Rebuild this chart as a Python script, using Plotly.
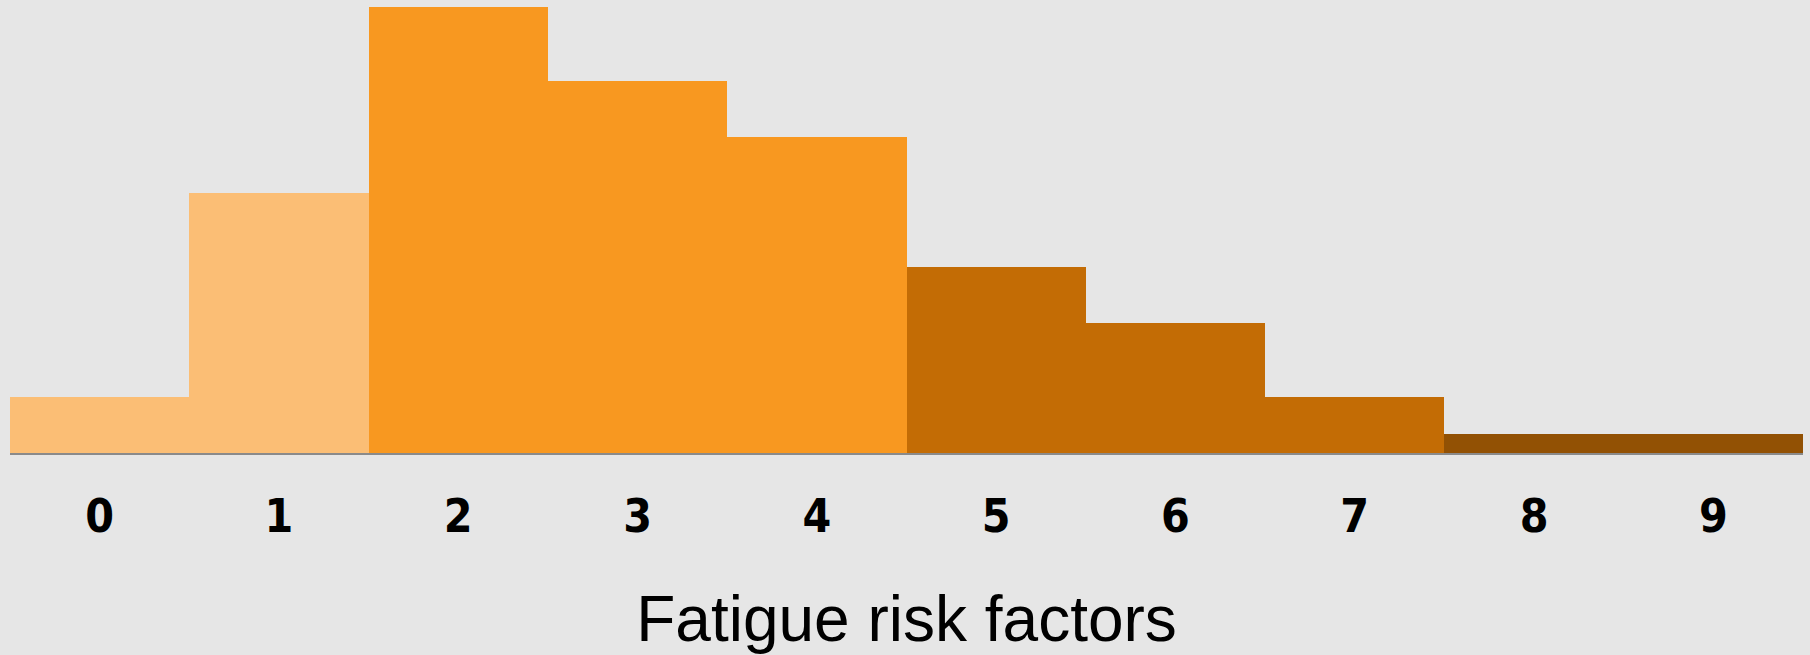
import plotly.graph_objects as go

categories = ["0", "1", "2", "3", "4", "5", "6", "7", "8", "9"]
values = [3, 14, 24, 20, 17, 10, 7, 3, 1, 1]
bar_colors = ["#FBBE75", "#FBBE75", "#F89820", "#F89820", "#F89820",
              "#C36C05", "#C36C05", "#C36C05", "#925104", "#925104"]
x_title = "Fatigue risk factors"

fig = go.Figure(
    go.Bar(
        x=categories,
        y=values,
        marker=dict(color=bar_colors, line=dict(width=0)),
        width=1.0,
        hoverinfo="x+y",
    )
)

fig.update_layout(
    width=1810,
    height=655,
    margin=dict(l=10, r=7, t=7, b=202, autoexpand=False),
    paper_bgcolor="#E6E6E6",
    plot_bgcolor="#E6E6E6",
    bargap=0,
    showlegend=False,
    xaxis=dict(
        type="category",
        range=[-0.5, 9.5],
        automargin=False,
        showgrid=False,
        zeroline=False,
        showline=True,
        linecolor="#8A8A8A",
        linewidth=2,
        ticks="",
        ticklabelstandoff=22,
        tickfont=dict(family="Liberation Sans Narrow, Arial Narrow, DejaVu Sans Condensed, Liberation Sans",
                      size=46, color="#000000", weight="bold"),
        title=dict(text=x_title, standoff=60,
                   font=dict(family="Liberation Sans, Arial", size=64, color="#000000")),
    ),
    yaxis=dict(
        range=[0, 24],
        visible=False,
        showgrid=False,
        zeroline=False,
        automargin=False,
    ),
)

fig.write_html(
    "out.html",
    config={"displayModeBar": False},
    post_script="document.body.style.margin='0';document.body.style.background='#E6E6E6';",
)
